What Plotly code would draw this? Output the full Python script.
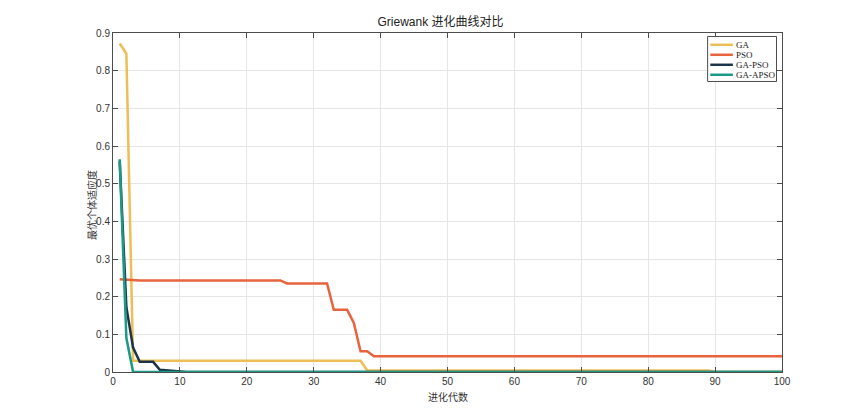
import plotly.graph_objects as go

generations = list(range(1, 101))

# GA
ga = [0.872, 0.845] + [0.030] * 35 + [0.004] * 52 + [0.0] * 11
# PSO
pso = [0.246, 0.245] + [0.243] * 23 + [0.235] * 7 + [0.165] * 3 + [0.130, 0.055, 0.055] + [0.042] * 62
# GA-PSO
gapso = [0.560, 0.172, 0.065, 0.027, 0.027, 0.027, 0.006, 0.004, 0.003, 0.001] + [0.0] * 90
# GA-APSO
gaapso = [0.565, 0.090] + [0.0] * 98

series_names = ["GA", "PSO", "GA-PSO", "GA-APSO"]
series_values = [ga, pso, gapso, gaapso]
series_colors = ["#EDBE55", "#E8633E", "#1C3447", "#1A9986"]

x_ticks = list(range(0, 101, 10))
y_ticks = [0, 0.1, 0.2, 0.3, 0.4, 0.5, 0.6, 0.7, 0.8, 0.9]
y_tick_labels = ["0", "0.1", "0.2", "0.3", "0.4", "0.5", "0.6", "0.7", "0.8", "0.9"]

fig = go.Figure()
for name, vals, col in zip(series_names, series_values, series_colors):
    fig.add_trace(go.Scatter(x=generations, y=vals, mode="lines", name=name,
                             line=dict(color=col, width=2.5), showlegend=False))

axis_common = dict(showline=True, linecolor="#4d4d4d", linewidth=1, mirror="ticks",
                   ticks="inside", ticklen=5, tickcolor="#4d4d4d",
                   showgrid=True, gridcolor="#e6e6e6", gridwidth=1, zeroline=False,
                   tickfont=dict(family="Liberation Sans, Arial", size=10, color="#333333"))

# plot area in screen pixels (page has an 8px body margin)
PL, PR, PT, PB = 112.5, 782.5, 32.5, 371.7
def px2x(p):
    return (p - PL) / (PR - PL)
def py2y(p):
    return (PB - p) / (PB - PT)

shapes = [dict(type="rect", xref="paper", yref="paper", layer="above",
               x0=px2x(708), x1=px2x(777), y0=py2y(81), y1=py2y(36),
               fillcolor="white", line=dict(color="#4d4d4d", width=1))]
annotations = []
entry_py = [44.3, 54.3, 64.3, 74.3]
for name, col, p in zip(series_names, series_colors, entry_py):
    shapes.append(dict(type="line", xref="paper", yref="paper", layer="above",
                       x0=px2x(710.7), x1=px2x(733.3), y0=py2y(p), y1=py2y(p),
                       line=dict(color=col, width=2.5)))
    annotations.append(dict(text=name, xref="paper", yref="paper", x=px2x(734), y=py2y(p),
                            xanchor="left", yanchor="middle", showarrow=False,
                            font=dict(family="Liberation Serif, Times New Roman", size=9, color="#222222")))
annotations.append(dict(text="进化代数", xref="paper", yref="paper", x=0.5, y=0,
                        xanchor="center", yanchor="top", yshift=-15, showarrow=False,
                        font=dict(family="Noto Sans CJK SC", size=10, color="#333333")))
annotations.append(dict(text="最优个体适应度", xref="paper", yref="paper", x=px2x(91), y=py2y(205),
                        xanchor="center", yanchor="middle", textangle=-90, showarrow=False,
                        font=dict(family="Noto Sans CJK SC", size=10, color="#333333")))

fig.update_layout(
    width=865, height=418,
    margin=dict(l=PL - 8, r=865 - (PR - 8), t=PT - 8, b=418 - (PB - 8)),
    paper_bgcolor="white", plot_bgcolor="white",
    title=dict(text="Griewank 进化曲线对比", x=0.5, xanchor="center", y=1 - 14 / 418, yanchor="middle",
               font=dict(family="Liberation Sans, Noto Sans CJK SC", size=12, color="#222222")),
    xaxis=dict(range=[0, 100], tickvals=x_ticks, **axis_common),
    yaxis=dict(range=[0, 0.9], tickvals=y_ticks, ticktext=y_tick_labels, **axis_common),
    shapes=shapes,
    annotations=annotations,
    showlegend=False,
)

fig.write_html("out.html")
